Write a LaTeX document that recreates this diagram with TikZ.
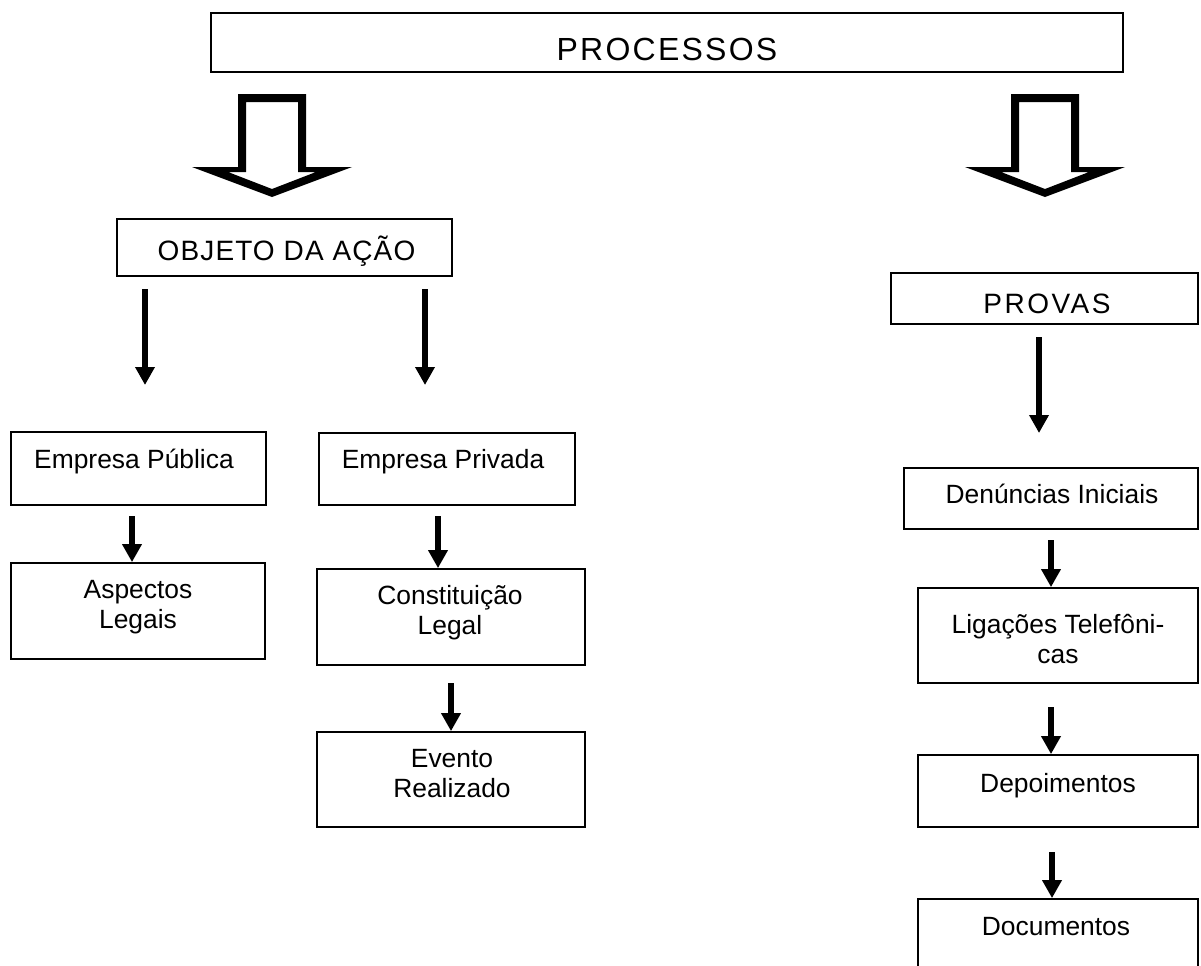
\documentclass[tikz,border=0pt]{standalone}
\usepackage{fontspec}
\setmainfont{Liberation Sans}
\usetikzlibrary{arrows.meta,fit}
\newcommand\bodyfnt{\fontsize{19.8pt}{22.5pt}\selectfont}
\newcommand\capfnt{\fontsize{21pt}{25pt}\selectfont}
\newcommand\bigdownarrow[1]{%
  \fill[even odd rule]
    ({#1-34},94) -- ({#1+34},94) -- ({#1+34},167) -- ({#1+80},167) -- (#1,197)
    -- ({#1-80},167) -- ({#1-34},167) -- cycle
    ({#1-26},102) -- ({#1+26},102) -- ({#1+26},172) -- ({#1+44},172) -- (#1,189)
    -- ({#1-44},172) -- ({#1-26},172) -- cycle;}
\begin{document}
\begin{tikzpicture}[x=0.75pt,y=-0.75pt,
  box/.style={draw, line width=1.3pt, inner sep=0pt, rectangle},
  txt/.style={inner sep=0pt, font=\bodyfnt, align=center},
  arr/.style={line width=4.2pt, -{Triangle[width=14pt,length=13.5pt]}}]
\useasboundingbox (0,0) rectangle (1201,965);
\clip (0,0) rectangle (1201,965);
% boxes
\node[box, fit={(211,13) (1123,72)}] (proc) {};
\node[box, fit={(117,219) (452,276)}] (obj) {};
\node[box, fit={(891,273) (1198,324)}] (prov) {};
\node[box, fit={(11,432) (266,505)}] (pub) {};
\node[box, fit={(319,433) (575,505)}] (priv) {};
\node[box, fit={(11,563) (265,659)}] (asp) {};
\node[box, fit={(317,569) (585,665)}] (const) {};
\node[box, fit={(317,732) (585,827)}] (evt) {};
\node[box, fit={(904,468) (1198,529)}] (den) {};
\node[box, fit={(918,588) (1198,683)}] (lig) {};
\node[box, fit={(918,755) (1198,827)}] (dep) {};
\node[box, fit={(918,899) (1198,985)}] (doc) {};
% texts
\node[txt, anchor=base, font=\fontsize{24pt}{28pt}\selectfont] (proct) at (667,60) {\addfontfeatures{LetterSpace=7}PROCESSOS};
\node[txt, anchor=base, font=\capfnt] (objt) at (286.5,260) {\addfontfeatures{LetterSpace=4}OBJETO DA AÇÃO};
\node[txt, anchor=base, font=\capfnt] (provt) at (1047,313) {\addfontfeatures{LetterSpace=9}PROVAS};
\node[txt, anchor=base] (pubt) at (134,468) {Empresa Pública};
\node[txt, anchor=base] (privt) at (443,468) {Empresa Privada};
\node[txt, anchor=north] (aspt) at (138,580) {Aspectos\\Legais};
\node[txt, anchor=north] (constt) at (450,585) {Constituição\\Legal};
\node[txt, anchor=north] (evtt) at (452,749) {Evento\\Realizado};
\node[txt, anchor=base] (dent) at (1052,503) {Denúncias Iniciais};
\node[txt, anchor=north] (ligt) at (1058,614) {Ligações Telefôni-\\cas};
\node[txt, anchor=base] (dept) at (1058,792) {Depoimentos};
\node[txt, anchor=base] (doct) at (1056,935) {Documentos};
% big hollow arrows
\bigdownarrow{272}
\bigdownarrow{1045}
% small arrows
\coordinate (a1s) at (145,289); \coordinate (a1e) at (145,385);
\coordinate (a2s) at (425,289); \coordinate (a2e) at (425,385);
\coordinate (a6s) at (1039,337); \coordinate (a6e) at (1039,433);
\coordinate (a3s) at (132,516);
\coordinate (a4s) at (438,516);
\coordinate (a5s) at (451,683);
\coordinate (a7s) at (1051,540);
\coordinate (a8s) at (1051,707);
\coordinate (a9s) at (1052,852);
\draw[arr] (a1s) -- (a1e);
\draw[arr] (a2s) -- (a2e);
\draw[arr] (a6s) -- (a6e);
\draw[arr] (a3s) -- (asp.north -| a3s);
\draw[arr] (a4s) -- (const.north -| a4s);
\draw[arr] (a5s) -- (evt.north -| a5s);
\draw[arr] (a7s) -- (lig.north -| a7s);
\draw[arr] (a8s) -- (dep.north -| a8s);
\draw[arr] (a9s) -- (doc.north -| a9s);
\end{tikzpicture}
\end{document}
